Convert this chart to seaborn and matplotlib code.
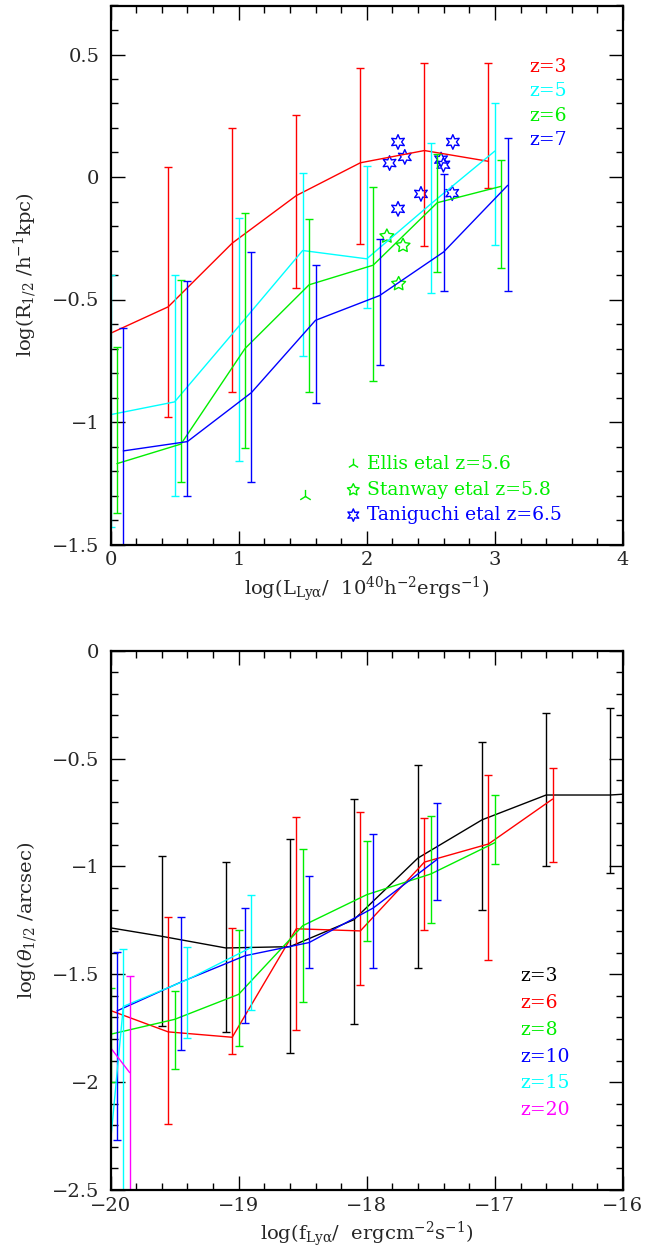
import numpy as np
import matplotlib
matplotlib.use("Agg")
import matplotlib.pyplot as plt
from matplotlib.ticker import MultipleLocator, FuncFormatter
import seaborn as sns

# ---------------- upper panel: R_1/2 vs L_Lya ----------------
z3_L = [-0.05, 0.45, 0.95, 1.45, 1.95, 2.45, 2.95]
z3_R = [-0.65, -0.53, -0.27, -0.076, 0.058, 0.108, 0.064]
z3_Rhi = [np.nan, 0.04, 0.20, 0.254, 0.446, 0.465, 0.465]
z3_Rlo = [np.nan, -0.98, -0.877, -0.455, -0.273, -0.283, -0.045]

z5_L = [0.0, 0.5, 1.0, 1.5, 2.0, 2.5, 3.0]
z5_R = [-0.97, -0.918, -0.61, -0.30, -0.334, -0.11, 0.106]
z5_Rhi = [-0.40, -0.40, -0.166, 0.015, 0.044, 0.14, 0.30]
z5_Rlo = [-1.43, -1.30, -1.16, -0.73, -0.534, -0.475, -0.278]

z6_L = [0.05, 0.55, 1.05, 1.55, 2.05, 2.55, 3.05]
z6_R = [-1.17, -1.09, -0.70, -0.44, -0.36, -0.105, -0.038]
z6_Rhi = [-0.694, -0.42, -0.147, -0.17, -0.042, 0.093, 0.069]
z6_Rlo = [-1.37, -1.245, -1.106, -0.877, -0.832, -0.389, -0.37]

z7_L = [0.1, 0.6, 1.1, 1.6, 2.1, 2.6, 3.1]
z7_R = [-1.118, -1.08, -0.88, -0.585, -0.484, -0.306, -0.034]
z7_Rhi = [-0.615, -0.426, -0.305, -0.36, -0.254, 0.013, 0.159]
z7_Rlo = [-1.75, -1.30, -1.245, -0.924, -0.768, -0.466, -0.466]

# observed samples
tanig_L = [2.244, 2.297, 2.178, 2.423, 2.244, 2.672, 2.58, 2.598, 2.667]
tanig_R = [0.143, 0.082, 0.057, -0.069, -0.13, 0.143, 0.071, 0.05, -0.066]
stanw_L = [2.157, 2.283, 2.249]
stanw_R = [-0.242, -0.28, -0.436]
ellis_L = [1.518]
ellis_R = [-1.30]

# ---------------- lower panel: theta_1/2 vs f_Lya ----------------
b3_f = [-20.1, -19.6, -19.1, -18.6, -18.1, -17.6, -17.1, -16.6, -16.1, -15.6]
b3_t = [-1.275, -1.324, -1.378, -1.372, -1.247, -0.961, -0.784, -0.669, -0.669, -0.65]
b3_thi = [np.nan, -0.952, -0.979, -0.871, -0.688, -0.528, -0.422, -0.287, -0.264, np.nan]
b3_tlo = [np.nan, -1.738, -1.767, -1.863, -1.732, -1.472, -1.204, -0.998, -1.029, np.nan]

b6_f = [-20.05, -19.55, -19.05, -18.55, -18.05, -17.55, -17.05, -16.55]
b6_t = [-1.657, -1.767, -1.792, -1.289, -1.299, -0.98, -0.896, -0.688]
b6_thi = [np.nan, -1.233, -1.287, -0.771, -0.748, -0.775, -0.576, -0.545]
b6_tlo = [np.nan, -2.195, -1.869, -1.757, -1.549, -1.295, -1.435, -0.981]

b8_f = [-20.0, -19.5, -19.0, -18.5, -18.0, -17.5, -17.0]
b8_t = [-1.778, -1.709, -1.593, -1.275, -1.131, -1.035, -0.89]
b8_thi = [-1.565, -1.577, -1.295, -0.919, -0.88, -0.765, -0.671]
b8_tlo = [-2.0, -1.938, -1.834, -1.628, -1.347, -1.262, -0.99]

b10_f = [-19.95, -19.45, -18.95, -18.45, -17.95, -17.45]
b10_t = [-1.67, -1.536, -1.414, -1.353, -1.193, -0.967]
b10_thi = [-1.397, -1.233, -1.195, -1.046, -0.848, -0.705]
b10_tlo = [-2.268, -1.85, -1.728, -1.472, -1.47, -1.156]

b15_f = [-20.4, -19.9, -19.4, -18.9]
b15_t = [-4.8, -1.649, -1.525, -1.375]
b15_thi = [np.nan, -1.384, -1.375, -1.131]
b15_tlo = [np.nan, -2.7, -1.797, -1.665]

b20_f = [-20.35, -19.85]
b20_t = [-1.57, -1.956]
b20_thi = [np.nan, -1.508]
b20_tlo = [np.nan, -2.7]

RED, CYAN, GREEN, BLUE, MAG, BLACK = "#ff0000", "#00ffff", "#00ee00", "#0000ff", "#ff00ff", "#000000"

sns.set_theme(style="ticks")
plt.rcParams["font.family"] = ["DejaVu Serif"]
plt.rcParams["mathtext.fontset"] = "dejavuserif"
plt.rcParams["axes.unicode_minus"] = True

fig = plt.figure(figsize=(6.54, 12.53), dpi=100)
W, H = 654.0, 1253.0
ax1 = fig.add_axes([110.5 / W, 1 - 544.5 / H, 512.5 / W, 539.0 / H])
ax2 = fig.add_axes([110.5 / W, 1 - 1190.0 / H, 512.5 / W, 539.3 / H])


def model(ax, x, y, hi, lo, color):
    x = np.asarray(x, float)
    y = np.asarray(y, float)
    hi = np.asarray(hi, float)
    lo = np.asarray(lo, float)
    sns.lineplot(x=x, y=y, ax=ax, color=color, lw=1.0, sort=False,
                 estimator=None, legend=False)
    ok = np.isfinite(hi) & np.isfinite(lo)
    ax.errorbar(x[ok], (hi[ok] + lo[ok]) / 2, yerr=(hi[ok] - lo[ok]) / 2,
                fmt="none", ecolor=color, elinewidth=1.0, capsize=3.0,
                capthick=1.0)


def fmt(v, _):
    s = f"{v:g}"
    return s.replace("-", "\u2212")


def style(ax, xlim, ylim, xmaj, ymaj):
    ax.set_xlim(*xlim)
    ax.set_ylim(*ylim)
    ax.xaxis.set_major_locator(MultipleLocator(xmaj))
    ax.xaxis.set_minor_locator(MultipleLocator(xmaj / 5))
    ax.yaxis.set_major_locator(MultipleLocator(ymaj))
    ax.yaxis.set_minor_locator(MultipleLocator(ymaj / 5))
    ax.xaxis.set_major_formatter(FuncFormatter(fmt))
    ax.yaxis.set_major_formatter(FuncFormatter(fmt))
    ax.tick_params(which="both", direction="in", top=True, right=True,
                   color="black", width=1.0)
    ax.tick_params(which="major", length=10, labelsize=14)
    ax.tick_params(which="minor", length=5)
    ax.tick_params(axis="x", which="major", pad=5)
    ax.tick_params(axis="y", which="major", pad=8)
    for sp in ax.spines.values():
        sp.set_visible(True)
        sp.set_linewidth(1.6)
        sp.set_color("black")
    ax.set_facecolor("white")


# upper panel
model(ax1, z3_L, z3_R, z3_Rhi, z3_Rlo, RED)
model(ax1, z5_L, z5_R, z5_Rhi, z5_Rlo, CYAN)
model(ax1, z6_L, z6_R, z6_Rhi, z6_Rlo, GREEN)
model(ax1, z7_L, z7_R, z7_Rhi, z7_Rlo, BLUE)

hexagram = (6, 1, 0)
sns.scatterplot(x=tanig_L, y=tanig_R, ax=ax1, marker=hexagram, s=110,
                facecolor="none", edgecolor=BLUE, linewidth=1.0, legend=False)
sns.scatterplot(x=stanw_L, y=stanw_R, ax=ax1, marker=(5, 1, 0), s=110,
                facecolor="none", edgecolor=GREEN, linewidth=1.0, legend=False)
sns.scatterplot(x=ellis_L, y=ellis_R, ax=ax1, marker="2", s=90,
                color=GREEN, linewidth=1.0, legend=False)

style(ax1, (0, 4), (-1.5, 0.7), 1, 0.5)
ax1.set_xlabel(r"log(L$_{\mathrm{Ly\alpha}}$/  10$^{40}$h$^{-2}$ergs$^{-1}$)", fontsize=14)
ax1.set_ylabel(r"log(R$_{1/2}$ /h$^{-1}$kpc)", fontsize=14)
ax1.xaxis.set_label_coords(0.5, -0.055)
ax1.yaxis.set_label_coords(-0.14, 0.5)

# redshift key, upper panel
for lab, col, yy in [("z=3", RED, 0.449), ("z=5", CYAN, 0.351),
                     ("z=6", GREEN, 0.249), ("z=7", BLUE, 0.151)]:
    ax1.text(3.27, yy, lab, color=col, fontsize=13.5, va="center", ha="left")

# sample key, upper panel
key_x, key_text_x = 1.895, 2.0
sns.scatterplot(x=[key_x], y=[-1.172], ax=ax1, marker="2", s=70,
                color=GREEN, linewidth=1.0, legend=False)
sns.scatterplot(x=[key_x], y=[-1.277], ax=ax1, marker=(5, 1, 0), s=80,
                facecolor="none", edgecolor=GREEN, linewidth=1.0, legend=False)
sns.scatterplot(x=[key_x], y=[-1.38], ax=ax1, marker=hexagram, s=80,
                facecolor="none", edgecolor=BLUE, linewidth=1.0, legend=False)
ax1.text(key_text_x, -1.172, "Ellis etal z=5.6", color=GREEN, fontsize=13.5, va="center")
ax1.text(key_text_x, -1.277, "Stanway etal z=5.8", color=GREEN, fontsize=13.5, va="center")
ax1.text(key_text_x, -1.38, "Taniguchi etal z=6.5", color=BLUE, fontsize=13.5, va="center")

# lower panel
model(ax2, b3_f, b3_t, b3_thi, b3_tlo, BLACK)
model(ax2, b6_f, b6_t, b6_thi, b6_tlo, RED)
model(ax2, b8_f, b8_t, b8_thi, b8_tlo, GREEN)
model(ax2, b10_f, b10_t, b10_thi, b10_tlo, BLUE)
model(ax2, b15_f, b15_t, b15_thi, b15_tlo, CYAN)
model(ax2, b20_f, b20_t, b20_thi, b20_tlo, MAG)

style(ax2, (-20, -16), (-2.5, 0), 1, 0.5)
ax2.set_xlabel(r"log(f$_{\mathrm{Ly\alpha}}$/  ergcm$^{-2}$s$^{-1}$)", fontsize=14)
ax2.set_ylabel(r"log($\theta_{1/2}$ /arcsec)", fontsize=14)
ax2.xaxis.set_label_coords(0.5, -0.055)
ax2.yaxis.set_label_coords(-0.14, 0.5)

for lab, col, yy in [("z=3", BLACK, -1.508), ("z=6", RED, -1.633),
                     ("z=8", GREEN, -1.758), ("z=10", BLUE, -1.883),
                     ("z=15", CYAN, -2.005), ("z=20", MAG, -2.13)]:
    ax2.text(-16.8, yy, lab, color=col, fontsize=13.5, va="center", ha="left")

fig.savefig("out.png", dpi=100, facecolor="white")
